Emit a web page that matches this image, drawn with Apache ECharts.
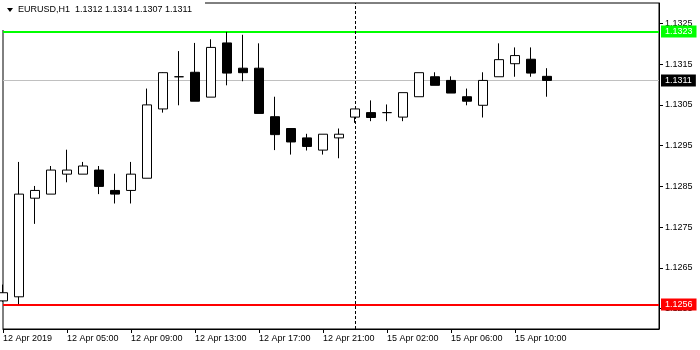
<!DOCTYPE html>
<html>
<head>
<meta charset="utf-8">
<script src="https://cdn.jsdelivr.net/npm/echarts@6/dist/echarts.min.js"></script>
<style>
html,body{margin:0;padding:0;background:#fff;}
#chart{width:700px;height:350px;}
</style>
</head>
<body>
<div id="chart"></div>
<script>
const symbol = 'EURUSD,H1';
const categories = ['12 Apr 2019','12 Apr 02:00','12 Apr 03:00','12 Apr 04:00','12 Apr 05:00','12 Apr 06:00','12 Apr 07:00','12 Apr 08:00','12 Apr 09:00','12 Apr 10:00','12 Apr 11:00','12 Apr 12:00','12 Apr 13:00','12 Apr 14:00','12 Apr 15:00','12 Apr 16:00','12 Apr 17:00','12 Apr 18:00','12 Apr 19:00','12 Apr 20:00','12 Apr 21:00','12 Apr 22:00','15 Apr 00:00','15 Apr 01:00','15 Apr 02:00','15 Apr 03:00','15 Apr 04:00','15 Apr 05:00','15 Apr 06:00','15 Apr 07:00','15 Apr 08:00','15 Apr 09:00','15 Apr 10:00','15 Apr 11:00','15 Apr 12:00'];
const openP  = [1.12569,1.12579,1.12821,1.12831,1.12880,1.12880,1.12890,1.12840,1.12840,1.12870,1.13040,1.13119,1.13130,1.13069,1.13202,1.13140,1.13140,1.13021,1.12992,1.12969,1.12939,1.12969,1.13020,1.13031,1.13031,1.13020,1.13070,1.13119,1.13110,1.13070,1.13049,1.13119,1.13151,1.13162,1.1312];
const highP  = [1.12609,1.12910,1.12851,1.12900,1.12940,1.12910,1.12900,1.12881,1.12910,1.13090,1.13130,1.13182,1.13202,1.13211,1.13229,1.13222,1.13201,1.13070,1.12992,1.12979,1.12978,1.12992,1.13040,1.13061,1.13051,1.13080,1.13129,1.13130,1.13120,1.13090,1.13130,1.13201,1.13191,1.13191,1.1314];
const lowP   = [1.12567,1.12561,1.12758,1.12831,1.12860,1.12880,1.12831,1.12808,1.12808,1.12870,1.13031,1.13049,1.13059,1.13069,1.13098,1.13108,1.13029,1.12939,1.12928,1.12938,1.12928,1.12919,1.13006,1.13010,1.13010,1.13010,1.13070,1.13098,1.13079,1.13049,1.13019,1.13119,1.13119,1.13119,1.1307];
const closeP = [1.12589,1.12831,1.12840,1.12890,1.12890,1.12900,1.12850,1.12831,1.12880,1.13050,1.13129,1.13119,1.13059,1.13191,1.13128,1.13129,1.13029,1.12977,1.12959,1.12948,1.12978,1.12978,1.13040,1.13019,1.13031,1.13080,1.13129,1.13098,1.13079,1.13059,1.13110,1.13161,1.13171,1.13128,1.1311];
const xTickIdx = [0,4,8,12,16,20,24,28,32];
const yTicks = [1.1255,1.1265,1.1275,1.1285,1.1295,1.1305,1.1315,1.1325];
const levelHigh = 1.1323;
const levelLow = 1.1256;
const bidPrice = 1.1311;
const separatorCategory = '15 Apr 00:00';
const shiftBars = 7;

const FONT = 'Liberation Sans';
const axisCats = categories.concat(new Array(shiftBars).fill(''));
const candleData = openP.map((o, i) => [o, closeP[i], lowP[i], highP[i]]);
const n = openP.length - 1;
const titleText = symbol + '  ' + [openP[n], highP[n], lowP[n], closeP[n]].map(v => v.toFixed(4)).join(' ');

function priceLabel(bg, val) {
  return {
    show: true, position: 'end', distance: 2,
    formatter: val.toFixed(4),
    color: '#fff', backgroundColor: bg, padding: [2, 4, 1, 4],
    fontFamily: FONT, fontSize: 9
  };
}

const chart = echarts.init(document.getElementById('chart'), null, {renderer: 'canvas'});
chart.setOption({
  animation: false,
  backgroundColor: '#fff',
  grid: {left: 3, right: 41, top: 3, bottom: 21, show: true, borderColor: '#000', borderWidth: 1, backgroundColor: 'transparent'},
  xAxis: {
    type: 'category', data: axisCats, boundaryGap: false,
    axisLine: {show: true, lineStyle: {color: '#000', width: 1}},
    axisTick: {show: true, length: 4, lineStyle: {color: '#000'}, interval: (i) => xTickIdx.indexOf(i) >= 0},
    axisLabel: {interval: (i) => xTickIdx.indexOf(i) >= 0, align: 'left', margin: 5, color: '#000', fontFamily: FONT, fontSize: 9},
    splitLine: {show: false}
  },
  yAxis: {
    type: 'value', position: 'right', min: 1.1250, max: 1.1330, scale: true,
    axisLine: {show: true, lineStyle: {color: '#000', width: 1}},
    axisTick: {show: true, length: 4, lineStyle: {color: '#000'}, customValues: yTicks},
    axisLabel: {customValues: yTicks, formatter: v => Number(v).toFixed(4), margin: 6, color: '#000', fontFamily: FONT, fontSize: 9},
    splitLine: {show: false}
  },
  series: [
    {
      type: 'candlestick', data: candleData, z: 3, barWidth: 9, clip: true,
      itemStyle: {color: '#fff', color0: '#000', borderColor: '#000', borderColor0: '#000', borderWidth: 1},
      markLine: {
        silent: true, symbol: ['none', 'none'], animation: false, z: 1, precision: 6,
        data: [
          {yAxis: bidPrice, lineStyle: {color: '#c0c0c0', width: 1, type: 'solid'}, label: priceLabel('#000', bidPrice)},
          {yAxis: levelHigh, lineStyle: {color: '#00ff00', width: 2, type: 'solid'}, label: priceLabel('#00ff00', levelHigh)},
          {yAxis: levelLow, lineStyle: {color: '#ff0000', width: 2, type: 'solid'}, label: priceLabel('#ff0000', levelLow)},
          {xAxis: separatorCategory, lineStyle: {color: '#000', width: 1, type: [3, 2]}, label: {show: false}}
        ]
      }
    }
  ],
  graphic: [
    {type: 'rect', left: 0, top: 0, z: 100, shape: {x: 0, y: 0, width: 205, height: 30}, style: {fill: '#fff'}},
    {type: 'polygon', z: 101, shape: {points: [[7, 8], [13, 8], [10, 12]]}, style: {fill: '#000'}},
    {type: 'text', z: 101, x: 18, y: 10, style: {text: titleText, fontFamily: FONT, fontSize: 9, fill: '#000', verticalAlign: 'middle'}}
  ]
});
</script>
</body>
</html>
